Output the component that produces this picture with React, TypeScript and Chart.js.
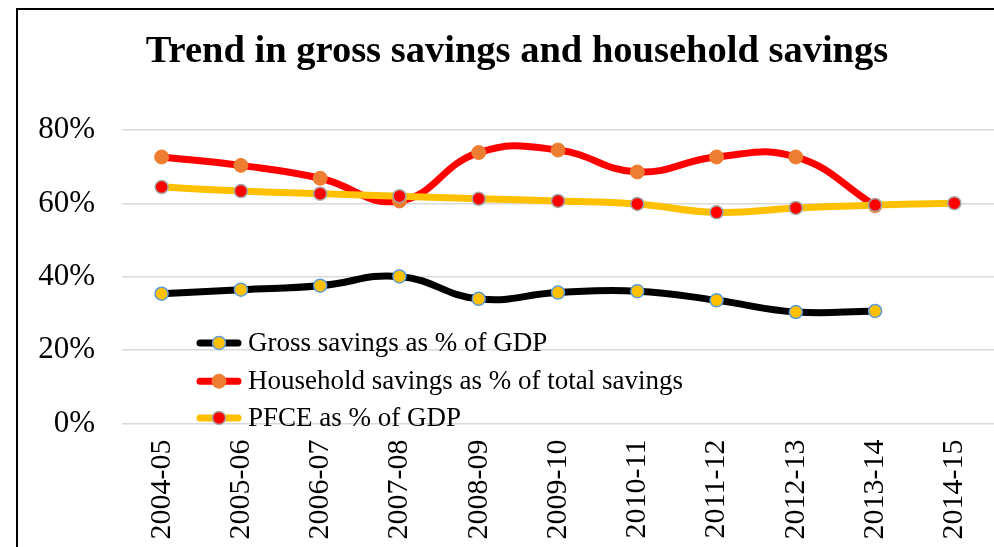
import React, { useEffect, useRef } from "react";
import { Chart, registerables } from "chart.js";

Chart.register(...registerables);

const categories = [
  "2004-05", "2005-06", "2006-07", "2007-08", "2008-09", "2009-10",
  "2010-11", "2011-12", "2012-13", "2013-14", "2014-15",
];
const grossSavings = [35.4, 36.5, 37.6, 40.1, 34.0, 35.7, 36.1, 33.6, 30.4, 30.7, null];
const householdSavings = [72.7, 70.4, 66.9, 60.7, 73.9, 74.6, 68.6, 72.7, 72.7, 59.4, null];
const pfce = [64.5, 63.4, 62.7, 62.0, 61.3, 60.7, 59.9, 57.6, 58.8, 59.6, 60.1];
const seriesNames = [
  "Gross savings as % of GDP",
  "Household savings as % of total savings",
  "PFCE as % of GDP",
];
const yTicks = [0, 20, 40, 60, 80];
const titleText = "Trend in gross savings and household savings";

const FONT = '"Liberation Serif", "Times New Roman", serif';

const insideLegend = {
  id: "insideLegend",
  afterDraw(chart: any) {
    const { ctx, chartArea } = chart;
    const symX = chartArea.left + 97;
    const textX = chartArea.left + 126;
    const rowYs = [212.7, 251, 287.7];
    chart.data.datasets.forEach((ds: any, i: number) => {
      const y = chartArea.top + rowYs[i];
      ctx.save();
      ctx.strokeStyle = ds.borderColor;
      ctx.lineWidth = ds.borderWidth;
      ctx.lineCap = "round";
      ctx.beginPath();
      ctx.moveTo(symX - 19, y);
      ctx.lineTo(symX + 19, y);
      ctx.stroke();
      ctx.beginPath();
      ctx.arc(symX, y, ds.pointRadius, 0, Math.PI * 2);
      ctx.fillStyle = ds.pointBackgroundColor;
      ctx.fill();
      ctx.lineWidth = ds.pointBorderWidth;
      ctx.strokeStyle = ds.pointBorderColor;
      ctx.stroke();
      ctx.fillStyle = "#000";
      ctx.font = `27px ${FONT}`;
      ctx.textBaseline = "middle";
      ctx.textAlign = "left";
      ctx.fillText(ds.label, textX, y + 1);
      ctx.restore();
    });
  },
};

export default function App() {
  const ref = useRef<HTMLCanvasElement | null>(null);

  useEffect(() => {
    if (!ref.current) return;
    const chart = new Chart(ref.current, {
      type: "line",
      data: {
        labels: categories,
        datasets: [
          {
            label: seriesNames[0],
            data: grossSavings,
            borderColor: "#000000",
            borderWidth: 7,
            pointRadius: 6.5,
            pointBackgroundColor: "#FFC000",
            pointBorderColor: "#5B9BD5",
            pointBorderWidth: 1.5,
            tension: 0.45,
            order: 2,
          },
          {
            label: seriesNames[1],
            data: householdSavings,
            borderColor: "#FF0000",
            borderWidth: 7,
            pointRadius: 7,
            pointBackgroundColor: "#ED7D31",
            pointBorderColor: "#ED7D31",
            pointBorderWidth: 1,
            tension: 0.45,
            order: 1,
          },
          {
            label: seriesNames[2],
            data: pfce,
            borderColor: "#FFC000",
            borderWidth: 7,
            pointRadius: 6.5,
            pointBackgroundColor: "#FF0000",
            pointBorderColor: "#A5A5A5",
            pointBorderWidth: 1.5,
            tension: 0.45,
            order: 0,
          },
        ],
      },
      options: {
        responsive: false,
        animation: false,
        layout: { padding: { left: 32, right: 0, top: 0, bottom: 0 } },
        plugins: {
          legend: { display: false },
          tooltip: { enabled: false },
          title: {
            display: true,
            text: titleText,
            color: "#000",
            font: { family: FONT, size: 38.5, weight: "bold" },
            padding: { top: 29, bottom: 55 },
          },
        },
        scales: {
          x: {
            offset: true,
            grid: { display: false },
            border: { display: false },
            ticks: {
              color: "#000",
              font: { family: FONT, size: 30 },
              minRotation: 90,
              maxRotation: 90,
              autoSkip: false,
              padding: 8,
            },
            afterFit(scale: any) {
              scale.height = 123.5;
            },
          },
          y: {
            min: 0,
            max: 80,
            afterBuildTicks(scale: any) {
              scale.ticks = yTicks.map((v) => ({ value: v }));
            },
            grid: { color: "#D9D9D9", lineWidth: 1.5, drawTicks: false },
            border: { display: false },
            ticks: {
              color: "#000",
              font: { family: FONT, size: 31 },
              padding: 27,
              callback: (v: any) => `${v}%`,
            },
            afterFit(scale: any) {
              scale.width = 90;
            },
          },
        },
      },
      plugins: [insideLegend],
    } as any);
    return () => chart.destroy();
  }, []);

  return (
    <div
      style={{
        position: "fixed",
        left: 0,
        top: 0,
        width: 994,
        height: 547,
        background: "#fff",
        overflow: "hidden",
      }}
    >
      <div
        style={{
          position: "absolute",
          left: 16,
          top: 8,
          width: 1200,
          height: 800,
          borderLeft: "2px solid #000",
          borderTop: "2px solid #000",
        }}
      />
      <canvas
        ref={ref}
        width={1002}
        height={547}
        style={{ position: "absolute", left: 0, top: 0, width: 1002, height: 547 }}
      />
    </div>
  );
}
